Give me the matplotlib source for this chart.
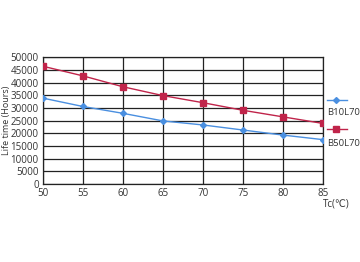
import matplotlib
matplotlib.use('Agg')
import matplotlib.pyplot as plt
from matplotlib.lines import Line2D

# data
tc = [50, 55, 60, 65, 70, 75, 80, 85]
b10l70 = [33900, 30600, 27900, 24900, 23300, 21300, 19300, 17500]
b50l70 = [46500, 42700, 38400, 34900, 32100, 29100, 26500, 23900]
yticks = list(range(0, 50001, 5000))

plt.rcParams['font.family'] = ['Liberation Sans Narrow', 'Open Sans', 'DejaVu Sans']
txt = '#333333'
blue = '#4a8fe0'
red = '#c0244a'

fig = plt.figure(figsize=(3.6, 2.62), dpi=100)
ax = fig.add_axes([0.119, 0.298, 0.778, 0.483])

ax.plot(tc, b10l70, color=blue, lw=1, marker='D', ms=3, zorder=3)
ax.plot(tc, b50l70, color=red, lw=1, marker='s', ms=5, zorder=3)

ax.set_xlim(50, 85)
ax.set_ylim(0, 50000)
ax.set_xticks(tc)
ax.set_yticks(yticks)
ax.grid(True, color='#222222', lw=0.9)
for s in ax.spines.values():
    s.set_color('#222222')
    s.set_linewidth(0.9)
ax.tick_params(length=0, labelsize=7, colors=txt, pad=3)

fig.text(0.019, 0.542, 'Life time (Hours)', fontsize=6.5, color=txt,
         rotation=90, ha='center', va='center')
fig.text(0.972, 0.221, 'Tc(℃)', fontsize=7, color=txt, ha='right', va='center')

# legend: handle above label
fig.add_artist(Line2D([0.908, 0.964], [0.618, 0.618], color=blue, lw=1,
                      transform=fig.transFigure))
fig.add_artist(Line2D([0.934], [0.618], color=blue, marker='D', ms=3,
                      ls='none', transform=fig.transFigure))
fig.text(0.908, 0.569, 'B10L70', fontsize=6.8, color=txt, ha='left', va='center')
fig.add_artist(Line2D([0.908, 0.964], [0.508, 0.508], color=red, lw=1,
                      transform=fig.transFigure))
fig.add_artist(Line2D([0.934], [0.508], color=red, marker='s', ms=5,
                      ls='none', transform=fig.transFigure))
fig.text(0.908, 0.454, 'B50L70', fontsize=6.8, color=txt, ha='left', va='center')

fig.savefig('out.png', dpi=100)
